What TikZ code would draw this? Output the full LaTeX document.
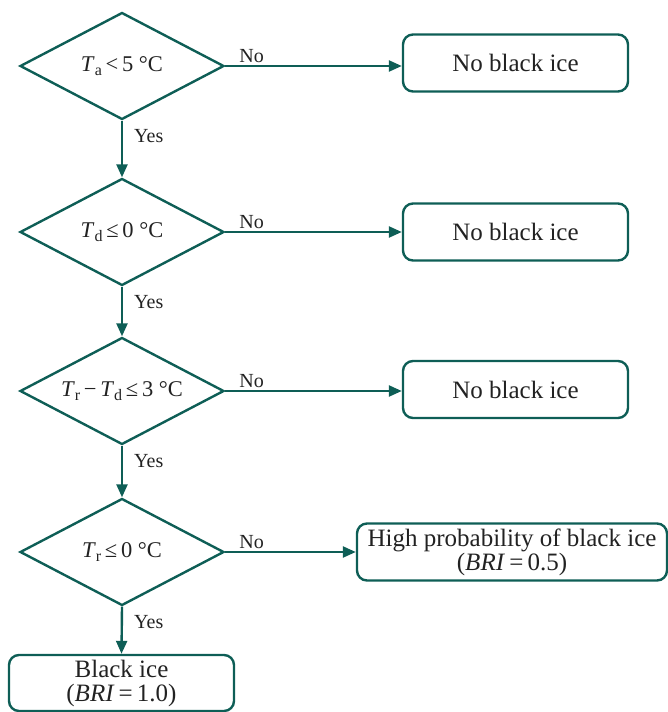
\documentclass[tikz,border=0pt]{standalone}
\usepackage{fontspec}
\setmainfont{Liberation Serif}
\usetikzlibrary{shapes.geometric,arrows.meta}
\definecolor{teal1}{HTML}{0E5E56}
\definecolor{ink}{HTML}{222222}
\newcommand{\lowsub}[1]{\raisebox{-0.35ex}{\fontsize{16}{16}\selectfont #1}}
\begin{document}
\begin{tikzpicture}[x=1pt,y=-1pt,
  every node/.style={text=ink},
  dec/.style={draw=teal1,line width=2.4pt,shape=diamond,aspect=1.9,minimum width=204pt,minimum height=107pt,inner sep=0pt,font=\fontsize{22.5}{24}\selectfont},
  endbox/.style={draw=teal1,line width=2.4pt,rounded corners=10pt,minimum width=225pt,minimum height=57pt,inner sep=0pt,align=center,font=\fontsize{25}{24}\selectfont},
  conn/.style={draw=teal1,line width=2.4pt,-{Triangle[length=13pt,width=11pt]}},
  lbl/.style={font=\fontsize{20}{20}\selectfont,inner sep=0pt}]
\useasboundingbox (0,0) rectangle (668,712);
\node[dec] (d1) at (122,66) {\textit{T}\lowsub{a}\,<\,5 °C};
\node[dec] (d2) at (122,232) {\textit{T}\lowsub{d}\,≤\,0 °C};
\node[dec] (d3) at (122,391) {\textit{T}\lowsub{r}\,−\,\textit{T}\lowsub{d}\,≤\,3 °C};
\node[dec] (d4) at (122,552) {\textit{T}\lowsub{r}\,≤\,0 °C};
\node[endbox] (b1) at (515.5,63) {No black ice};
\node[endbox] (b2) at (515.5,232) {No black ice};
\node[endbox] (b3) at (515.5,389.5) {No black ice};
\node[endbox,minimum width=310pt] (b4) at (512,552) {High probability of black ice\\(\textit{BRI}\,=\,0.5)};
\node[endbox,minimum height=56pt] (b5) at (121.5,683) {Black ice\\(\textit{BRI}\,=\,1.0)};
\foreach \d/\b in {d1/b1,d2/b2,d3/b3,d4/b4}{
  \draw[conn] (\d.east) -- (\d.east -| \b.west);
  \node[lbl,anchor=base west] at ([xshift=14pt,yshift=4pt]\d.east) {No};
}
\foreach \a/\c in {d1/d2,d2/d3,d3/d4,d4/b5}{
  \draw[conn] (\a.south) -- (\c.north);
  \node[lbl,anchor=base west] at ([xshift=12pt,yshift=-22pt]\a.south) {Yes};
}
\end{tikzpicture}
\end{document}
